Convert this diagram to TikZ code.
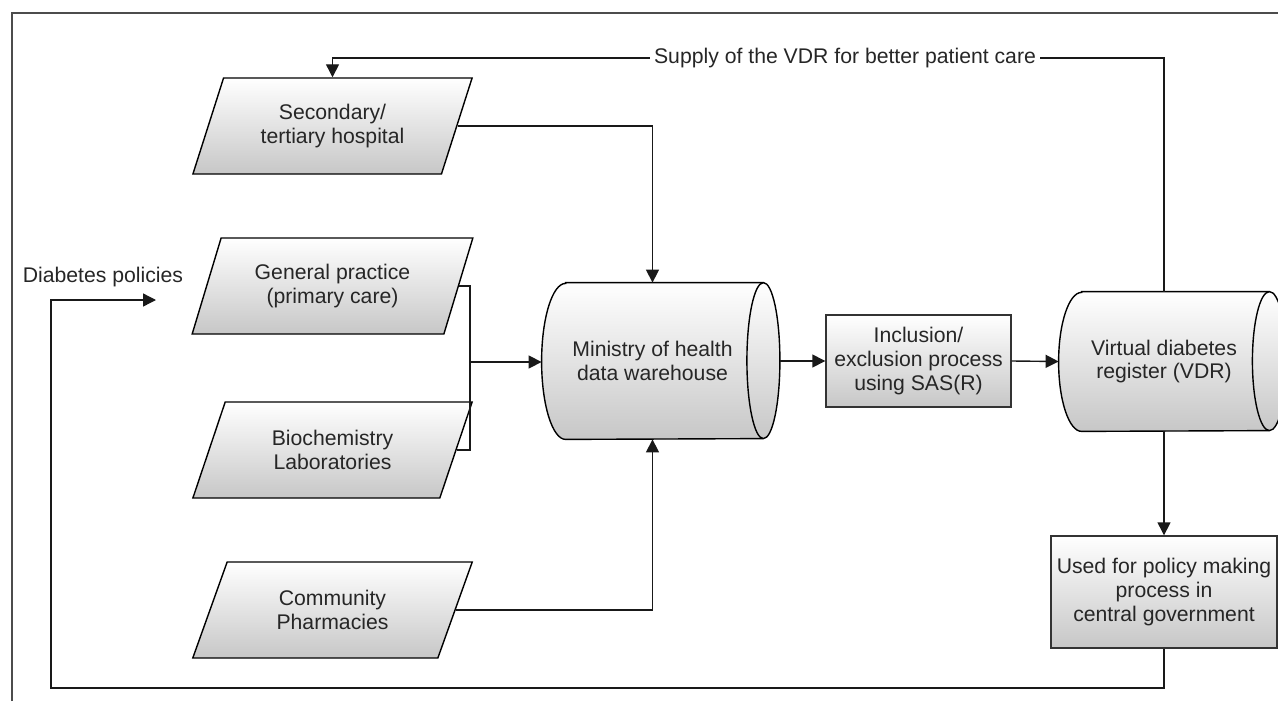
\documentclass[tikz,border=0pt]{standalone}
\usepackage{fontspec}
\setmainfont{Liberation Sans}
\usetikzlibrary{shapes.geometric, arrows.meta, backgrounds}

\begin{document}
\begin{tikzpicture}[x=0.5pt, y=-0.5pt,
	font=\fontsize{10.6}{11.8}\selectfont, text=black!85,
	shade/.style={top color=white, bottom color=black!22},
	source/.style={shade, draw=black, line width=0.7pt, trapezium, trapezium left angle=65, trapezium right angle=115, trapezium stretches=true, minimum width=140.5pt, minimum height=48pt, align=center, inner sep=0pt},
	storebody/.style={rectangle, align=center, inner sep=0pt},
	storeline/.style={shade, draw=black, line width=0.7pt},
	procbox/.style={shade, draw=black!80, line width=0.7pt, rectangle, align=center, inner sep=0pt},
	link/.style={draw=black!90, line width=0.7pt},
	arrow/.style={link, -{Triangle[length=6.5pt, width=6.5pt]}},
	frame/.style={draw=black!70, line width=1pt}]
	\useasboundingbox (0,0) rectangle (1278,701);
	\draw[frame] (12,701) -- (12,13) -- (1278,13);
	\node[source] (sec) at (332.5,126) {Secondary/\\tertiary hospital};
	\node[source] (gp) at (332.5,286) {General practice\\(primary care)};
	\node[source] (bio) at (332.5,450) {Biochemistry\\Laboratories};
	\node[source] (pharm) at (332.5,610) {Community\\Pharmacies};
	\node[storebody, minimum width=110.5pt, minimum height=78pt] (mdw) at (652.5,361) {Ministry of health\\data warehouse};
	\node[procbox, minimum width=92.5pt, minimum height=46pt] (incl) at (918.5,361) {Inclusion/\\exclusion process\\using SAS(R)};
	\node[storebody, minimum width=105pt, minimum height=69.5pt] (vdr) at (1164,361.5) {Virtual diabetes\\register (VDR)};
	\node[procbox, minimum width=113pt, minimum height=56pt] (used) at (1164,592) {Used for policy making\\process in\\central government};
	\node[inner sep=2pt] (supply) at (845,58) {Supply of the VDR for better patient care};
	\node (policy) at (103,277) {Diabetes policies};
	\begin{pgfonlayer}{background}
		\path[storeline] ([xshift=12pt]mdw.north west) -- (mdw.north east) arc[start angle=90, end angle=-90, x radius=8.25pt, y radius=39pt] -- ([xshift=12pt]mdw.south west) arc[start angle=270, end angle=90, x radius=12pt, y radius=39pt] -- cycle;
		\draw[line width=0.7pt] (mdw.north east) arc[start angle=90, end angle=270, x radius=8.25pt, y radius=39pt];
		\path[storeline] ([xshift=11.5pt]vdr.north west) -- (vdr.north east) arc[start angle=90, end angle=-90, x radius=8.5pt, y radius=34.75pt] -- ([xshift=11.5pt]vdr.south west) arc[start angle=270, end angle=90, x radius=11.5pt, y radius=34.75pt] -- cycle;
		\draw[line width=0.7pt] (vdr.north east) arc[start angle=90, end angle=270, x radius=8.5pt, y radius=34.75pt];
	\end{pgfonlayer}
	\coordinate (join) at (470,362);
	\coordinate (corner) at (51,688);
	\coordinate (polend) at (156,300);
	\draw[link] (used.north |- vdr.north) |- (supply.east);
	\draw[arrow] (supply.west) -| (sec.north);
	\draw[arrow] (sec.right side) -| (mdw.north);
	\draw[arrow] (pharm.right side) -| (mdw.south);
	\draw[link] (gp.right side) -| (join);
	\draw[link] (bio.right side) -| (join);
	\draw[arrow] (join) -- (join -| mdw.west);
	\draw[arrow] ([xshift=8.25pt]mdw.east) -- (incl.west);
	\draw[arrow] (incl.east) -- (vdr.west);
	\draw[arrow] (vdr.south -| used.north) -- (used.north);
	\draw[arrow] (used.south) |- (corner) |- (polend);
\end{tikzpicture}
\end{document}
